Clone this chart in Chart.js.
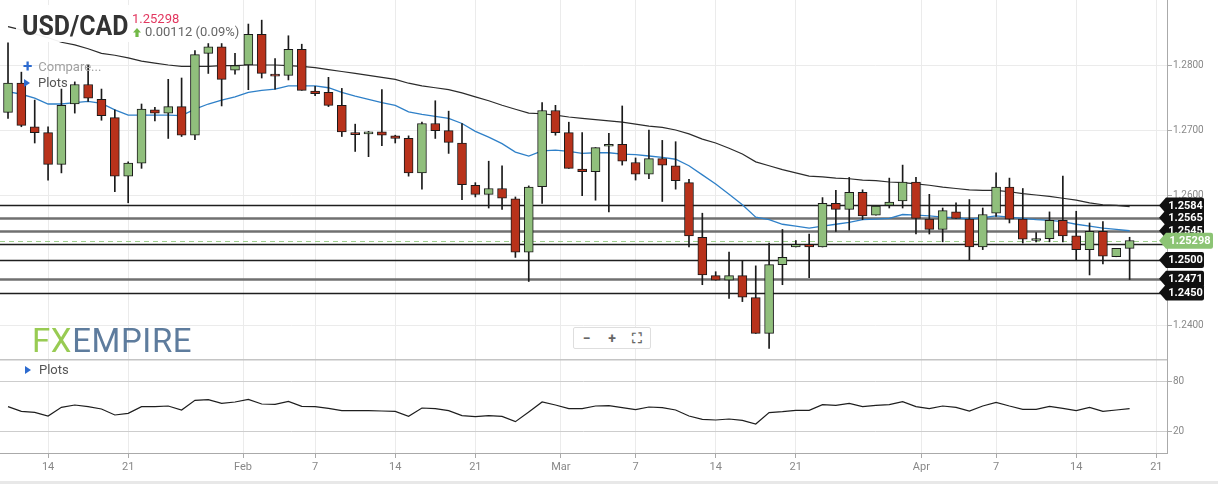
<!DOCTYPE html>
<html>
<head>
<meta charset="utf-8">
<script src="https://cdn.jsdelivr.net/npm/chart.js@4.4.1/dist/chart.umd.min.js"></script>
<style>
  body { margin: 0; background: #fff; font-family: Roboto, "Open Sans", sans-serif; }
  #wrap { position: relative; width: 1218px; height: 484px; overflow: hidden; }
  #priceBox { position: absolute; left: 0; top: 0; width: 1218px; height: 359px; }
  #oscBox { position: absolute; left: 0; top: 359px; width: 1218px; height: 125px; }
  .ov { position: absolute; white-space: nowrap; }
  #title { left: 16px; top: 5px; width: 216px; height: 37px; background: rgba(255,255,255,0.93); }
  #sym { position: absolute; left: 6px; top: 5px; font-size: 28px; line-height: 32px; font-weight: 700; color: #333;
    transform: scaleX(0.89); transform-origin: 0 0; }
  #last { position: absolute; left: 116px; top: 6px; font-size: 13px; color: #e2375f; }
  #chg { position: absolute; left: 117px; top: 19px; font-size: 13px; color: #666; }
  #chg svg { vertical-align: -1px; margin-right: 4px; }
  .menu { font-size: 13px; }
  .tri { display: inline-block; width: 0; height: 0; border-top: 4px solid transparent; border-bottom: 4px solid transparent; border-left: 6px solid #2d6bcf; margin-right: 8px; }
  #logo { left: 32px; top: 321px; font-size: 33px; letter-spacing: 0.6px; opacity: 0.9; }
  #zoomBtns { left: 573px; top: 327px; width: 76px; height: 20px; border: 1px solid #dedede; border-radius: 2px; background: #fff; display: flex; }
  #zoomBtns span { flex: 1; text-align: center; color: #666; font-size: 14px; line-height: 20px; font-weight: 700; }
  #foot { position: absolute; left: 0; top: 481px; width: 1218px; height: 3px; background: #e8e8e8; }
</style>
</head>
<body>
<div id="wrap">
  <div id="priceBox"><canvas id="price" width="1218" height="359"></canvas></div>
  <div id="oscBox"><canvas id="osc" width="1218" height="125"></canvas></div>

  <div class="ov" id="title">
    <div id="sym">USD/CAD</div>
    <div id="last">1.25298</div>
    <div id="chg"><svg width="8" height="9" viewBox="0 0 8 9"><path d="M4 0 L8 4.5 L5.6 4.5 L5.6 9 L2.4 9 L2.4 4.5 L0 4.5 Z" fill="#72b947"/></svg>0.00112 (0.09%)</div>
  </div>
  <div class="ov menu" style="left:23px;top:56px;color:#a0a0a0"><span style="color:#2d6bcf;font-weight:700;font-size:17px;margin-right:6px;vertical-align:-1px">+</span>Compare...</div>
  <div class="ov menu" style="left:24px;top:75px;color:#555"><span class="tri"></span>Plots</div>
  <div class="ov menu" style="left:25px;top:362px;color:#555"><span class="tri"></span>Plots</div>

  <div class="ov" id="logo"><span style="color:#8dc641">FX</span><span style="color:#4d6e93">EMPIRE</span></div>
  <div class="ov" id="zoomBtns"><span>&minus;</span><span>+</span><span>&#x26F6;</span></div>
  <div id="foot"></div>
</div>

<script>
// daily USD/CAD candles, one per trading bar (Sunday bars included)
var opens = [1.2727,1.2772,1.2705,1.2696,1.2647,1.2740,1.2770,1.2747,1.2719,1.2629,
  1.2649,1.2731,1.2726,1.2736,1.2692,1.2818,1.2828,1.2792,1.2800,1.2847,
  1.2786,1.2784,1.2824,1.2760,1.2758,1.2738,1.2696,1.2694,1.2697,1.2691,
  1.2687,1.2634,1.2710,1.2699,1.2680,1.2615,1.2601,1.2610,1.2594,1.2512,
  1.2613,1.2730,1.2696,1.2640,1.2636,1.2675,1.2678,1.2650,1.2632,1.2656,
  1.2645,1.2619,1.2535,1.2476,1.2469,1.2476,1.2442,1.2387,1.2493,1.2520,
  1.2524,1.2520,1.2587,1.2578,1.2604,1.2569,1.2584,1.2591,1.2620,1.2563,
  1.2547,1.2574,1.2563,1.2520,1.2572,1.2612,1.2563,1.2530,1.2533,1.2561,
  1.2537,1.2516,1.2544,1.2505,1.2518];
var highs = [1.2834,1.2789,1.2746,1.2705,1.2763,1.2774,1.2800,1.2763,1.2731,1.2651,
  1.2740,1.2735,1.2778,1.2780,1.2822,1.2833,1.2833,1.2818,1.2863,1.2869,
  1.2810,1.2845,1.2832,1.2767,1.2781,1.2764,1.2709,1.2698,1.2762,1.2692,
  1.2691,1.2712,1.2745,1.2729,1.2710,1.2619,1.2652,1.2645,1.2597,1.2614,
  1.2742,1.2738,1.2712,1.2696,1.2673,1.2695,1.2737,1.2657,1.2700,1.2684,
  1.2682,1.2624,1.2572,1.2482,1.2512,1.2499,1.2491,1.2526,1.2547,1.2530,
  1.2540,1.2596,1.2607,1.2627,1.2608,1.2583,1.2626,1.2646,1.2627,1.2601,
  1.2580,1.2588,1.2593,1.2580,1.2634,1.2626,1.2610,1.2542,1.2574,1.2629,
  1.2575,1.2557,1.2559,1.2518,1.2535];
var lows = [1.2718,1.2705,1.2680,1.2623,1.2634,1.2726,1.2744,1.2715,1.2605,1.2588,
  1.2641,1.2714,1.2687,1.2690,1.2685,1.2787,1.2737,1.2786,1.2762,1.2780,
  1.2763,1.2777,1.2761,1.2753,1.2736,1.2690,1.2667,1.2659,1.2676,1.2680,
  1.2629,1.2609,1.2687,1.2664,1.2593,1.2597,1.2580,1.2578,1.2504,1.2467,
  1.2587,1.2692,1.2641,1.2599,1.2592,1.2574,1.2646,1.2623,1.2625,1.2590,
  1.2609,1.2520,1.2462,1.2469,1.2441,1.2436,1.2387,1.2364,1.2462,1.2520,
  1.2473,1.2520,1.2544,1.2546,1.2562,1.2569,1.2580,1.2580,1.2540,1.2540,
  1.2528,1.2564,1.2500,1.2516,1.2567,1.2557,1.2526,1.2528,1.2528,1.2528,
  1.2500,1.2477,1.2494,1.2505,1.2470];
var closes = [1.2772,1.2707,1.2696,1.2647,1.2738,1.2770,1.2749,1.2722,1.2629,1.2649,
  1.2732,1.2726,1.2736,1.2692,1.2816,1.2828,1.2778,1.2799,1.2847,1.2787,
  1.2783,1.2824,1.2761,1.2756,1.2738,1.2697,1.2693,1.2697,1.2692,1.2687,
  1.2634,1.2710,1.2699,1.2681,1.2616,1.2601,1.2610,1.2595,1.2512,1.2612,
  1.2730,1.2696,1.2641,1.2636,1.2673,1.2678,1.2652,1.2632,1.2656,1.2646,
  1.2622,1.2537,1.2477,1.2469,1.2476,1.2443,1.2387,1.2493,1.2504,1.2524,
  1.2520,1.2587,1.2578,1.2604,1.2568,1.2583,1.2589,1.2620,1.2564,1.2547,
  1.2576,1.2564,1.2520,1.2570,1.2612,1.2563,1.2532,1.2533,1.2561,1.2537,
  1.2516,1.2544,1.2506,1.2518,1.2530];

// moving averages
var ma20 = [1.2759,1.2755,1.2749,1.2740,1.2740,1.2742,1.2744,1.2741,1.2731,1.2723,
  1.2723,1.2723,1.2723,1.2722,1.2732,1.2740,1.2746,1.2751,1.2758,1.2761,
  1.2763,1.2768,1.2768,1.2768,1.2765,1.2758,1.2752,1.2747,1.2742,1.2738,
  1.2728,1.2724,1.2721,1.2718,1.2710,1.2698,1.2689,1.2679,1.2666,1.2660,
  1.2668,1.2669,1.2667,1.2664,1.2665,1.2665,1.2663,1.2662,1.2660,1.2658,
  1.2655,1.2645,1.2631,1.2617,1.2601,1.2585,1.2566,1.2562,1.2555,1.2552,
  1.2549,1.2552,1.2555,1.2558,1.2562,1.2563,1.2564,1.2570,1.2569,1.2568,
  1.2566,1.2565,1.2563,1.2565,1.2568,1.2566,1.2564,1.2562,1.2561,1.2559,
  1.2555,1.2552,1.2549,1.2547,1.2545];
var ma50 = [1.2859,1.2854,1.2848,1.2842,1.2835,1.2831,1.2825,1.2818,1.2815,1.2811,
  1.2806,1.2803,1.2800,1.2798,1.2798,1.2798,1.2799,1.2799,1.2800,1.2800,
  1.2800,1.2799,1.2798,1.2796,1.2793,1.2790,1.2787,1.2784,1.2781,1.2778,
  1.2772,1.2768,1.2765,1.2762,1.2757,1.2751,1.2745,1.2738,1.2732,1.2726,
  1.2725,1.2723,1.2720,1.2718,1.2716,1.2714,1.2712,1.2709,1.2706,1.2704,
  1.2700,1.2694,1.2686,1.2680,1.2672,1.2663,1.2651,1.2645,1.2639,1.2634,
  1.2629,1.2628,1.2626,1.2625,1.2623,1.2622,1.2620,1.2619,1.2617,1.2615,
  1.2612,1.2610,1.2608,1.2607,1.2607,1.2605,1.2602,1.2600,1.2598,1.2595,
  1.2592,1.2588,1.2585,1.2584,1.2582];

// oscillator in the lower panel
var rsi = [49.6,44,42.8,38.4,48.8,51.6,49.6,46.8,39.6,41.6,
  49.6,49.6,50.4,45.6,57.2,58,53.6,55.2,58.4,52.8,
  52.4,56,50,49.6,47.6,44.8,44.8,44.8,44.4,44,
  38,48,47.2,44.8,38.8,37.6,38.8,38,31.6,43.2,
  55.2,51.6,47.2,47.2,50.4,50.8,48.4,46,49.2,48.4,
  45.6,38.4,34.4,33.6,34.8,33.2,28.8,42.4,43.6,45.2,
  45.2,52,51.2,53.6,49.6,51.2,52,55.6,49.6,47.2,
  50.4,48.8,44.4,50.4,54.8,50.4,46.4,46.4,50,47.6,
  44.8,48.8,44,45.6,47.2];

// date ticks, as bar positions
var tickPos = [3, 9, 17.6, 23, 29, 35, 41.4, 47, 53, 59, 68.4, 74, 80, 86];
var tickText = ['14','21','Feb','7','14','21','Mar','7','14','21','Apr','7','14','21'];
var priceTicks = [1.24, 1.25, 1.26, 1.27, 1.28];
var rsiTicks = [20, 80];

// horizontal levels
var tagLevels = [1.2584, 1.2565, 1.2545, 1.2500, 1.2471, 1.2450];
var heavyLevels = [1.2565, 1.2545, 1.2471];
var plainLevels = [1.2525];
var lastPrice = 1.25298;

Chart.defaults.font.family = 'Roboto';

var idx = opens.map(function(_, i) { return i; });
var bodyData = idx.map(function(i) {
  return {x: i, y: [Math.min(opens[i], closes[i]), Math.max(opens[i], closes[i])]};
});
var wickData = idx.map(function(i) { return {x: i, y: [lows[i], highs[i]]}; });
var bodyColors = idx.map(function(i) { return closes[i] >= opens[i] ? '#90bf7c' : '#b8321b'; });

function xAxis(withLabels) {
  return {
    type: 'linear', min: -0.6, max: 86.8, offset: false,
    afterBuildTicks: function(s) { s.ticks = tickPos.map(function(v) { return {value: v}; }); },
    grid: {color: '#ebebeb', offset: false, drawTicks: withLabels, tickLength: 5, tickColor: '#aaa'},
    border: {display: withLabels, color: '#aaa'},
    ticks: {display: withLabels, autoSkip: false, maxRotation: 0, color: '#888', padding: 3,
      font: {size: 11}, callback: function(v, i) { return tickText[i]; }},
    afterFit: function(s) {
      s.height = withLabels ? 31 : 0;
      s.paddingLeft = 0; s.paddingRight = 0;
    }
  };
}

function yAxis(min, max, list, fmt, gridColor) {
  return {
    type: 'linear', position: 'right', min: min, max: max, beginAtZero: false,
    afterBuildTicks: function(s) { s.ticks = list.map(function(v) { return {value: v}; }); },
    grid: {color: gridColor, tickLength: 5, tickColor: '#aaa'},
    border: {color: '#aaa'},
    ticks: {color: '#888', padding: 1, font: {size: 10}, callback: fmt},
    afterFit: function(s) {
      s.width = 51;
      s.paddingTop = 0; s.paddingBottom = 0;
    }
  };
}

var levelPlugin = {
  id: 'levels',
  beforeDatasetsDraw: function(chart) {
    var ctx = chart.ctx, a = chart.chartArea, y = chart.scales.y;
    ctx.save();
    tagLevels.concat(plainLevels).forEach(function(v) {
      var heavy = heavyLevels.indexOf(v) >= 0;
      var py = Math.round(y.getPixelForValue(v)) + 0.5;
      ctx.strokeStyle = heavy ? '#707070' : '#1e1e1e';
      ctx.lineWidth = heavy ? 2.5 : 1.3;
      ctx.beginPath(); ctx.moveTo(a.left, py); ctx.lineTo(a.right, py); ctx.stroke();
    });
    var lp = Math.round(y.getPixelForValue(lastPrice)) + 0.5;
    ctx.strokeStyle = '#9fd08e';
    ctx.lineWidth = 1;
    ctx.setLineDash([5, 4]);
    ctx.beginPath(); ctx.moveTo(a.left, lp); ctx.lineTo(a.right, lp); ctx.stroke();
    ctx.restore();
  }
};

function drawTag(ctx, left, py, right, fill, text) {
  ctx.fillStyle = fill;
  ctx.beginPath();
  ctx.moveTo(left - 8, py);
  ctx.lineTo(left - 1, py - 8);
  ctx.lineTo(right - 2, py - 8);
  ctx.quadraticCurveTo(right, py - 8, right, py - 6);
  ctx.lineTo(right, py + 6);
  ctx.quadraticCurveTo(right, py + 8, right - 2, py + 8);
  ctx.lineTo(left - 1, py + 8);
  ctx.closePath();
  ctx.fill();
  ctx.fillStyle = '#fff';
  ctx.fillText(text, (left + right) / 2, py + 0.5);
}

var tagPlugin = {
  id: 'tags',
  afterDraw: function(chart) {
    var ctx = chart.ctx, a = chart.chartArea, y = chart.scales.y;
    ctx.save();
    ctx.font = 'bold 11px Roboto';
    ctx.textAlign = 'center';
    ctx.textBaseline = 'middle';
    tagLevels.forEach(function(v) {
      drawTag(ctx, a.right, y.getPixelForValue(v), a.right + 37, '#111', v.toFixed(4));
    });
    drawTag(ctx, a.right, y.getPixelForValue(lastPrice), a.right + 46, '#8cc474', lastPrice.toFixed(5));
    ctx.restore();
  }
};

var sepPlugin = {
  id: 'sep',
  afterDraw: function(chart) {
    var ctx = chart.ctx, a = chart.chartArea;
    ctx.save();
    ctx.strokeStyle = '#c4c4c4';
    ctx.lineWidth = 1.5;
    ctx.beginPath(); ctx.moveTo(0, a.top + 0.75); ctx.lineTo(a.right, a.top + 0.75); ctx.stroke();
    ctx.restore();
  }
};

new Chart(document.getElementById('price'), {
  type: 'bar',
  data: {
    datasets: [
      {type: 'bar', data: bodyData, backgroundColor: bodyColors, borderColor: '#1a1a1a', borderWidth: 1,
        borderSkipped: false, barThickness: 9, minBarLength: 2, grouped: false, order: 1},
      {type: 'bar', data: wickData, backgroundColor: '#1a1a1a', barThickness: 1, grouped: false, order: 2},
      {type: 'line', data: idx.map(function(i) { return {x: i, y: ma50[i]}; }), borderColor: '#2b2b2b',
        borderWidth: 1.2, pointRadius: 0, order: 3},
      {type: 'line', data: idx.map(function(i) { return {x: i, y: ma20[i]}; }), borderColor: '#2f80c8',
        borderWidth: 1.3, pointRadius: 0, order: 4}
    ]
  },
  options: {
    responsive: false, animation: false,
    layout: {padding: 0},
    plugins: {legend: {display: false}, tooltip: {enabled: false}},
    scales: {
      x: xAxis(false),
      y: yAxis(1.23477, 1.29, priceTicks, function(v) { return v.toFixed(4); }, '#ebebeb')
    }
  },
  plugins: [levelPlugin, tagPlugin]
});

new Chart(document.getElementById('osc'), {
  type: 'line',
  data: {
    datasets: [
      {data: idx.map(function(i) { return {x: i, y: rsi[i]}; }), borderColor: '#1e1e1e', borderWidth: 1.2, pointRadius: 0}
    ]
  },
  options: {
    responsive: false, animation: false,
    layout: {padding: 0},
    plugins: {legend: {display: false}, tooltip: {enabled: false}},
    scales: {
      x: xAxis(true),
      y: yAxis(-6, 106.8, rsiTicks, function(v) { return String(v); }, '#cdcdcd')
    }
  },
  plugins: [sepPlugin]
});
</script>
</body>
</html>
